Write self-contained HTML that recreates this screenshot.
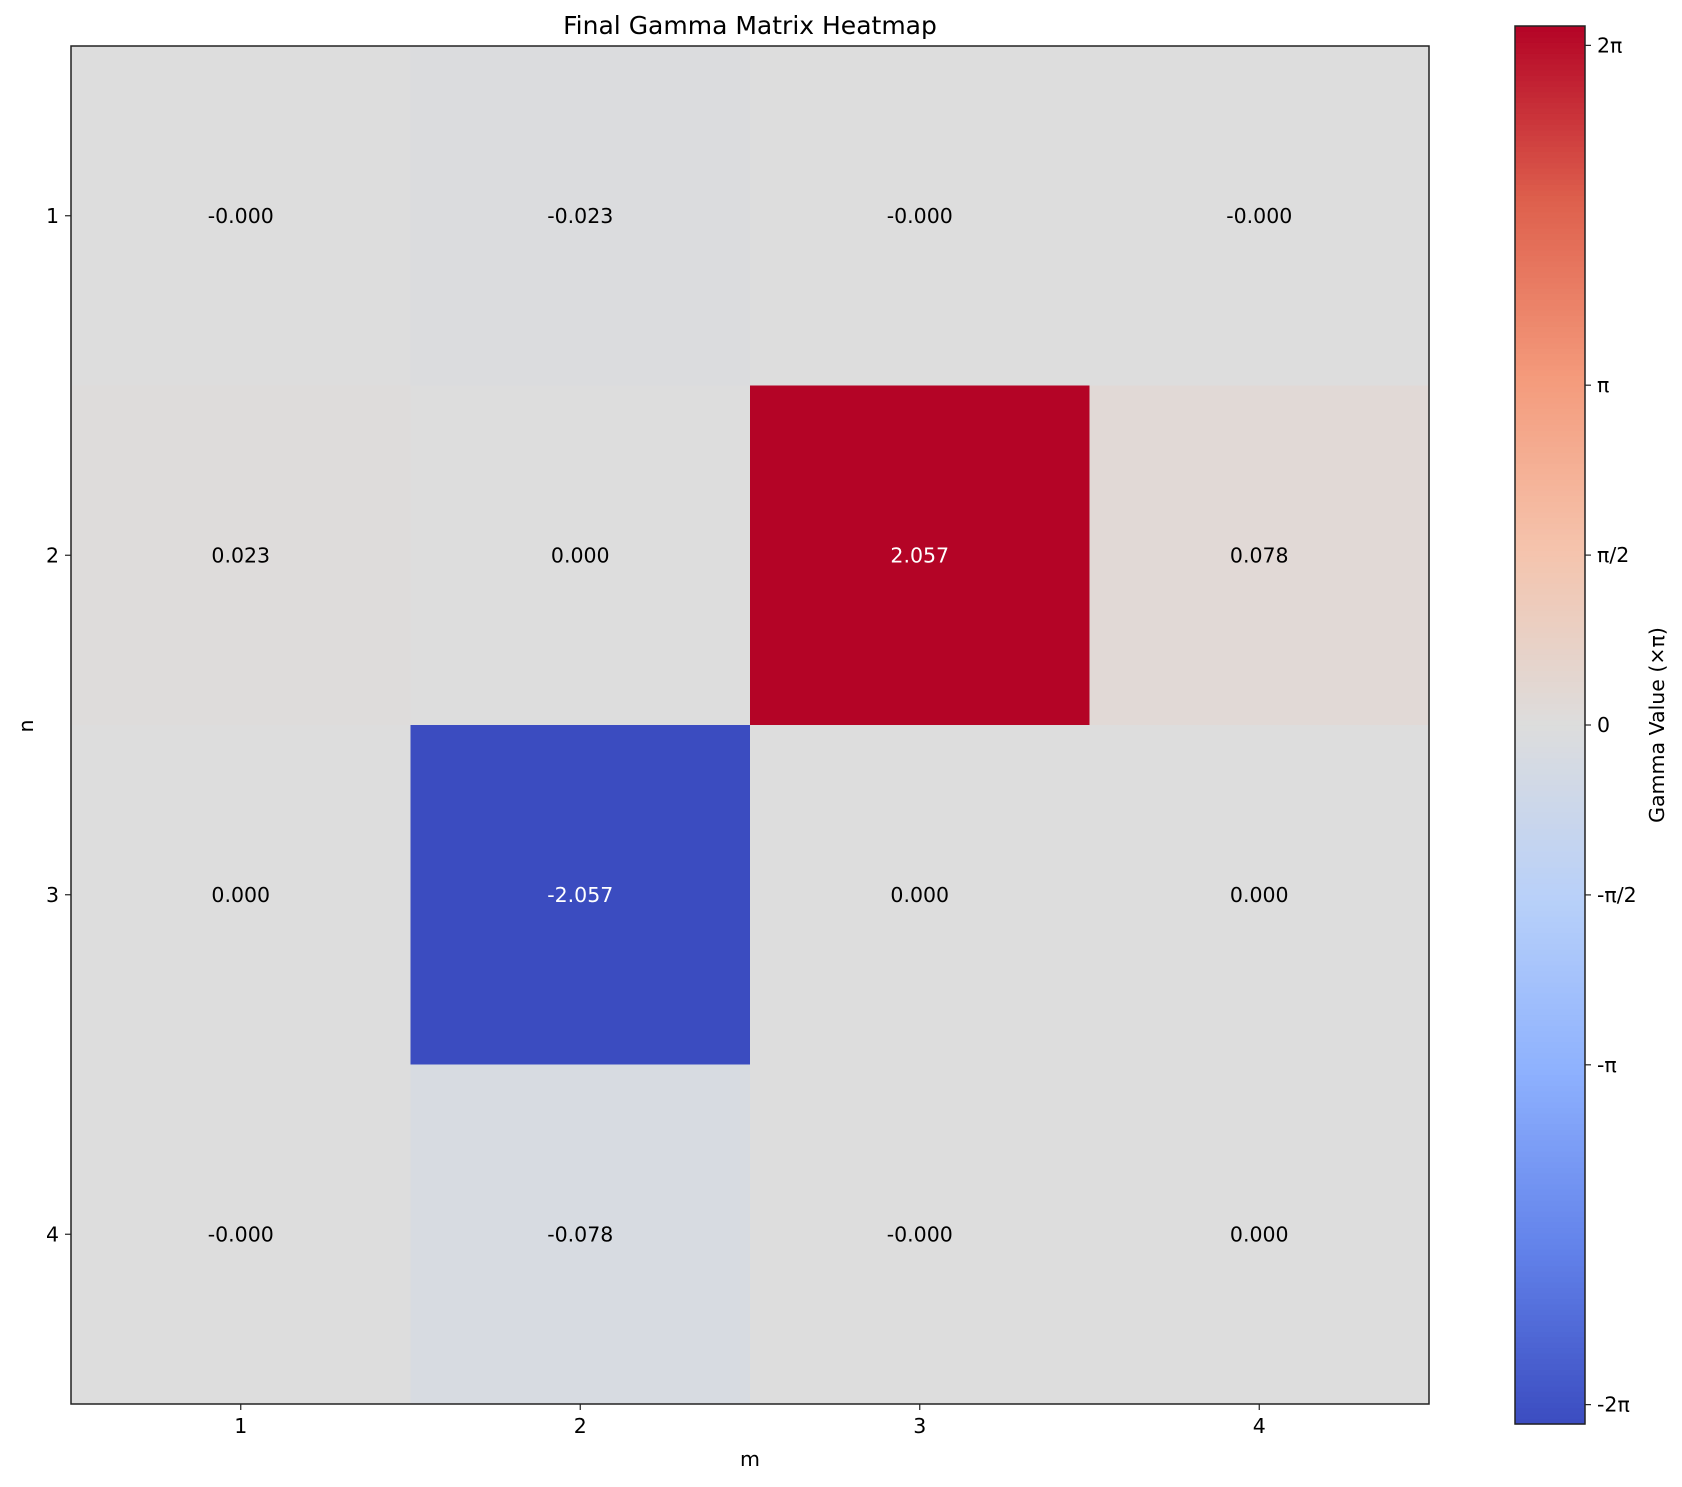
<!DOCTYPE html>
<html><head><meta charset="utf-8"><style>
body{margin:0;background:#fff;}
svg text{font-family:"DejaVu Sans","Liberation Sans",sans-serif;}
</style></head><body>
<svg id="chart" width="1682" height="1482" xmlns="http://www.w3.org/2000/svg">
<text x="750" y="34" font-size="25" text-anchor="middle" fill="#000">Final Gamma Matrix Heatmap</text>
<g id="cells"></g>
<g id="axes"></g>
<g id="cbar"></g>
<text x="750" y="1466" font-size="20.5" text-anchor="middle">m</text>
<text x="0" y="0" font-size="20.5" text-anchor="middle" transform="translate(33,726) rotate(-90)">n</text>
<text x="0" y="0" font-size="20.5" text-anchor="middle" transform="translate(1664,725) rotate(-90)">Gamma Value (×π)</text>
</svg>
<script>
const mLabels = ["1","2","3","4"];
const nLabels = ["1","2","3","4"];
const row1 = [-0.0001, -0.023, -0.0001, -0.0001];
const row2 = [0.023, 0.000, 2.057, 0.078];
const row3 = [0.000, -2.057, 0.000, 0.000];
const row4 = [-0.0001, -0.078, -0.0001, 0.000];
const rowLabels1 = ["-0.000","-0.023","-0.000","-0.000"];
const rowLabels2 = ["0.023","0.000","2.057","0.078"];
const rowLabels3 = ["0.000","-2.057","0.000","0.000"];
const rowLabels4 = ["-0.000","-0.078","-0.000","0.000"];
const cbTicks = [2, 1, 0.5, 0, -0.5, -1, -2];
const cbTickLabels = ["2π","π","π/2","0","-π/2","-π","-2π"];
const vmax = 2.057, vmin = -2.057;

const rows=[row1,row2,row3,row4], rowLabels=[rowLabels1,rowLabels2,rowLabels3,rowLabels4];
const NS="http://www.w3.org/2000/svg";
const L=71,R=1429,T=46,B=1404;
const cw=(R-L)/mLabels.length, ch=(B-T)/nLabels.length;
const xs=i=>L+i*cw, ys=j=>T+j*ch;
const stops=[[59,76,192],[98,130,234],[141,176,254],[184,208,249],[221,221,221],[245,196,173],[244,154,123],[222,96,77],[180,4,38]];
function cmap(v){let t=(v-vmin)/(vmax-vmin);t=Math.max(0,Math.min(1,t));const p=t*8,i=Math.min(7,Math.floor(p)),f=p-i;const a=stops[i],b=stops[i+1];
return `rgb(${a.map((c,k)=>Math.round(c+(b[k]-c)*f)).join(',')})`;}
function el(tag,attrs,parent){const e=document.createElementNS(NS,tag);for(const k in attrs)e.setAttribute(k,attrs[k]);parent.appendChild(e);return e;}
const FS=20.5;
const cells=document.getElementById('cells');
rows.forEach((row,j)=>row.forEach((v,i)=>{
 const r=el('rect',{x:xs(i),y:ys(j),width:cw+0.5,height:ch+0.5,fill:cmap(v)},cells);
 
 
 const t=el('text',{x:xs(i)+cw/2,y:ys(j)+ch/2+7,'font-size':FS,'text-anchor':'middle',fill:Math.abs(v)/vmax>0.7?'#fff':'#000'},cells);
 t.textContent=rowLabels[j][i];
 
 
}));
const axes=document.getElementById('axes');
const fr=el('rect',{x:L,y:T,width:R-L,height:B-T,fill:'none',stroke:'#222','stroke-width':1.5},axes);


mLabels.forEach((m,i)=>{const x=xs(i)+cw/2;el('line',{x1:x,x2:x,y1:B,y2:B+6,stroke:'#222','stroke-width':1.2},axes);
 const t=el('text',{x:x,y:B+29,'font-size':FS,'text-anchor':'middle'},axes);t.textContent=m;
 
 });
nLabels.forEach((n,j)=>{const y=ys(j)+ch/2;el('line',{x1:L-6,x2:L,y1:y,y2:y,stroke:'#222','stroke-width':1.2},axes);
 const t=el('text',{x:L-12,y:y+7,'font-size':FS,'text-anchor':'end'},axes);t.textContent=n;
 
 });
const cb=document.getElementById('cbar');
const CL=1515,CR=1585,CT=26,CB=1424;
const cy=v=>CB-(v-vmin)/(vmax-vmin)*(CB-CT);
const N=256;
for(let k=0;k<N;k++){const v0=vmin+(vmax-vmin)*k/N,v1=vmin+(vmax-vmin)*(k+1)/N;
 el('rect',{x:CL,y:cy(v1),width:CR-CL,height:cy(v0)-cy(v1)+0.6,fill:cmap((v0+v1)/2)},cb);}
const cf=el('rect',{x:CL,y:CT,width:CR-CL,height:CB-CT,fill:'none',stroke:'#222','stroke-width':1.5},cb);


cbTicks.forEach((v,k)=>{const y=cy(v);el('line',{x1:CR,x2:CR+6,y1:y,y2:y,stroke:'#222','stroke-width':1.2},cb);
 const t=el('text',{x:CR+12,y:y+7,'font-size':FS},cb);t.textContent=cbTickLabels[k];
 
 });
</script>
</body></html>
